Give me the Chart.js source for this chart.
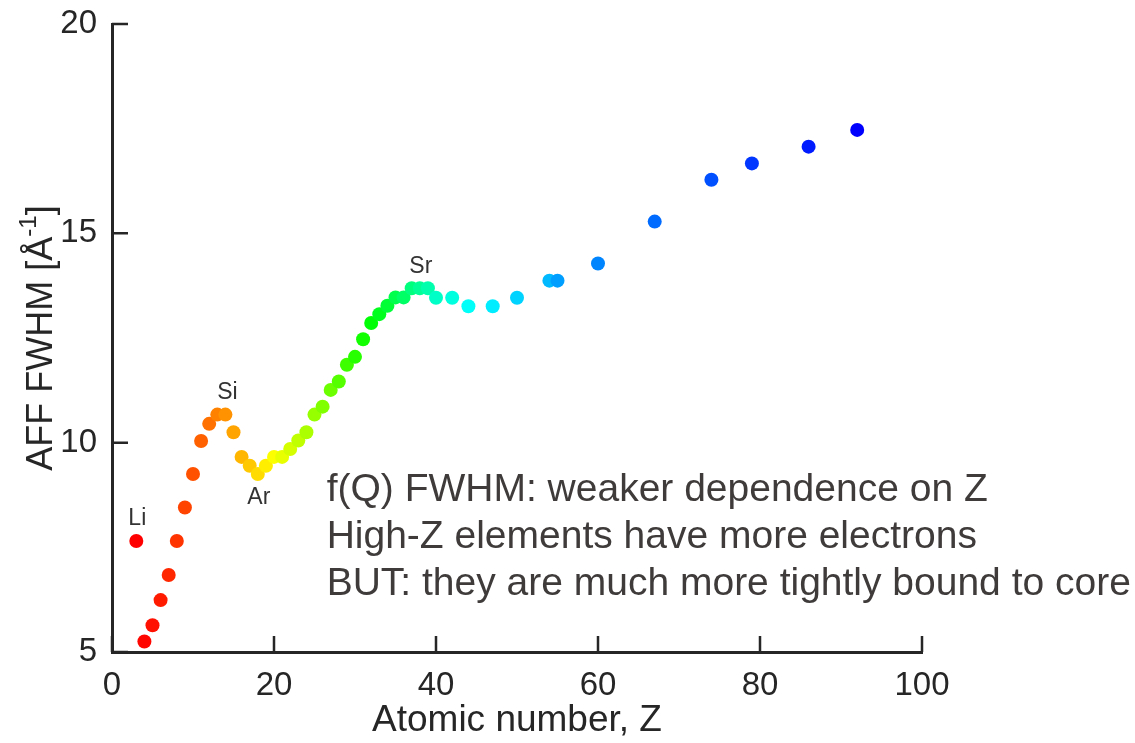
<!DOCTYPE html>
<html>
<head>
<meta charset="utf-8">
<script src="https://cdn.jsdelivr.net/npm/chart.js@4.4.0/dist/chart.umd.min.js"></script>
<style>
  html, body { margin: 0; padding: 0; background: #fff; }
  #wrap { width: 1135px; height: 743px; }
</style>
</head>
<body>
<div id="wrap"><canvas id="myChart" width="1135" height="743"></canvas></div>
<script>
// atomic number Z and the AFF FWHM
var atomicNumbers = [3, 4, 5, 6, 7, 8, 9, 10, 11, 12, 13, 14, 15, 16, 17, 18, 19, 20,
  21, 22, 23, 24, 25, 26, 27, 28, 29, 30, 31, 32, 33, 34, 35, 36, 37, 38, 39, 40,
  42, 44, 47, 50, 54, 55, 60, 67, 74, 79, 86, 92]
var fwhm = [7.65, 5.25, 5.64, 6.24, 6.84, 7.65, 8.45, 9.25, 10.04, 10.45, 10.67, 10.67,
  10.25, 9.66, 9.45, 9.25, 9.45, 9.66, 9.66, 9.85, 10.05, 10.25, 10.67, 10.86, 11.26,
  11.46, 11.86, 12.05, 12.47, 12.86, 13.07, 13.27, 13.47, 13.47, 13.69, 13.69, 13.69,
  13.46, 13.46, 13.26, 13.26, 13.46, 13.87, 13.87, 14.28, 15.28, 16.28, 16.67, 17.07, 17.47]

var xTicks = [0, 20, 40, 60, 80, 100]
var yTicks = [5, 10, 15, 20]

var elementNames = ['Li', 'Si', 'Ar', 'Sr']
var elementZ = [3, 14, 18, 38]

var noteLines = [
  'f(Q) FWHM: weaker dependence on Z',
  'High-Z elements have more electrons',
  'BUT: they are much more tightly bound to core'
]

var axisColor = '#262626'
var font = '"Liberation Sans", Arial, sans-serif'

// hsv colormap, red -> blue along the points
var colors = []
for (var i = 0; i < atomicNumbers.length; i++) {
  var h = 240 * Math.pow(i / (atomicNumbers.length - 1), 1.3)
  colors.push('hsl(' + h.toFixed(1) + ',100%,50%)')
}

var points = []
for (var i = 0; i < atomicNumbers.length; i++) {
  points.push({ x: atomicNumbers[i], y: fwhm[i] })
}

// inward ticks, labels, y title with superscript
var extras = {
  id: 'extras',
  afterDraw: function (chart) {
    var ctx = chart.ctx
    var xs = chart.scales.x
    var ys = chart.scales.y
    var area = chart.chartArea
    ctx.save()
    ctx.strokeStyle = axisColor
    ctx.lineWidth = 2.5
    ctx.beginPath()
    xTicks.forEach(function (v) {
      var px = xs.getPixelForValue(v)
      ctx.moveTo(px, area.bottom)
      ctx.lineTo(px, area.bottom - 16)
    })
    yTicks.forEach(function (v) {
      var py = ys.getPixelForValue(v)
      ctx.moveTo(area.left, py)
      ctx.lineTo(area.left + 16, py)
    })
    ctx.stroke()

    // element labels
    ctx.fillStyle = '#333'
    ctx.font = '23px ' + font
    ctx.textAlign = 'center'
    ctx.textBaseline = 'middle'
    elementNames.forEach(function (name, k) {
      var idx = atomicNumbers.indexOf(elementZ[k])
      var px = xs.getPixelForValue(elementZ[k])
      var py = ys.getPixelForValue(fwhm[idx])
      var off = name === 'Ar' ? 24 : -22
      ctx.fillText(name, px + (name === 'Si' ? 2 : 1), py + off)
    })

    // note text
    ctx.fillStyle = '#3f3b3b'
    ctx.font = '39px ' + font
    ctx.textAlign = 'left'
    ctx.textBaseline = 'alphabetic'
    var nx = xs.getPixelForValue(26.5)
    noteLines.forEach(function (line, k) {
      ctx.fillText(line, nx, 501 + k * 47)
    })

    // y axis title
    ctx.fillStyle = axisColor
    ctx.translate(52, (area.top + area.bottom) / 2)
    ctx.rotate(-Math.PI / 2)
    var main = 'AFF FWHM [Å'
    var sup = '-1'
    var end = ']'
    ctx.font = '36px ' + font
    var w1 = ctx.measureText(main).width
    var w3 = ctx.measureText(end).width
    ctx.font = '24px ' + font
    var w2 = ctx.measureText(sup).width
    var x0 = -(w1 + w2 + w3) / 2
    ctx.textAlign = 'left'
    ctx.font = '36px ' + font
    ctx.fillText(main, x0, 0)
    ctx.font = '24px ' + font
    ctx.fillText(sup, x0 + w1, -16)
    ctx.font = '36px ' + font
    ctx.fillText(end, x0 + w1 + w2, 0)
    ctx.restore()
  }
}

new Chart(document.getElementById('myChart'), {
  type: 'scatter',
  data: {
    datasets: [{
      data: points,
      pointBackgroundColor: colors,
      pointBorderWidth: 0,
      pointRadius: 7,
      pointHoverRadius: 7
    }]
  },
  options: {
    responsive: false,
    animation: false,
    layout: { padding: { top: 24, right: 213, left: 0, bottom: 0 } },
    plugins: { legend: { display: false }, tooltip: { enabled: false } },
    scales: {
      x: {
        type: 'linear',
        min: 0, max: 100,
        afterBuildTicks: function (s) { s.ticks = xTicks.map(function (v) { return { value: v } }) },
        afterFit: function (s) { s.height = 91 },
        grid: { drawOnChartArea: false, drawTicks: false },
        border: { color: axisColor, width: 3 },
        ticks: { color: axisColor, font: { family: font, size: 33 }, padding: 14, maxRotation: 0 },
        title: { display: true, text: 'Atomic number, Z', color: axisColor, font: { family: font, size: 37 }, padding: { top: 2, bottom: 0 } }
      },
      y: {
        type: 'linear',
        min: 5, max: 20,
        afterBuildTicks: function (s) { s.ticks = yTicks.map(function (v) { return { value: v } }) },
        afterFit: function (s) { s.width = 112; s.paddingTop = 0; s.paddingBottom = 0 },
        grid: { drawOnChartArea: false, drawTicks: false },
        border: { color: axisColor, width: 3 },
        ticks: { color: axisColor, font: { family: font, size: 33 }, padding: 15 }
      }
    }
  },
  plugins: [extras]
})
</script>
</body>
</html>
